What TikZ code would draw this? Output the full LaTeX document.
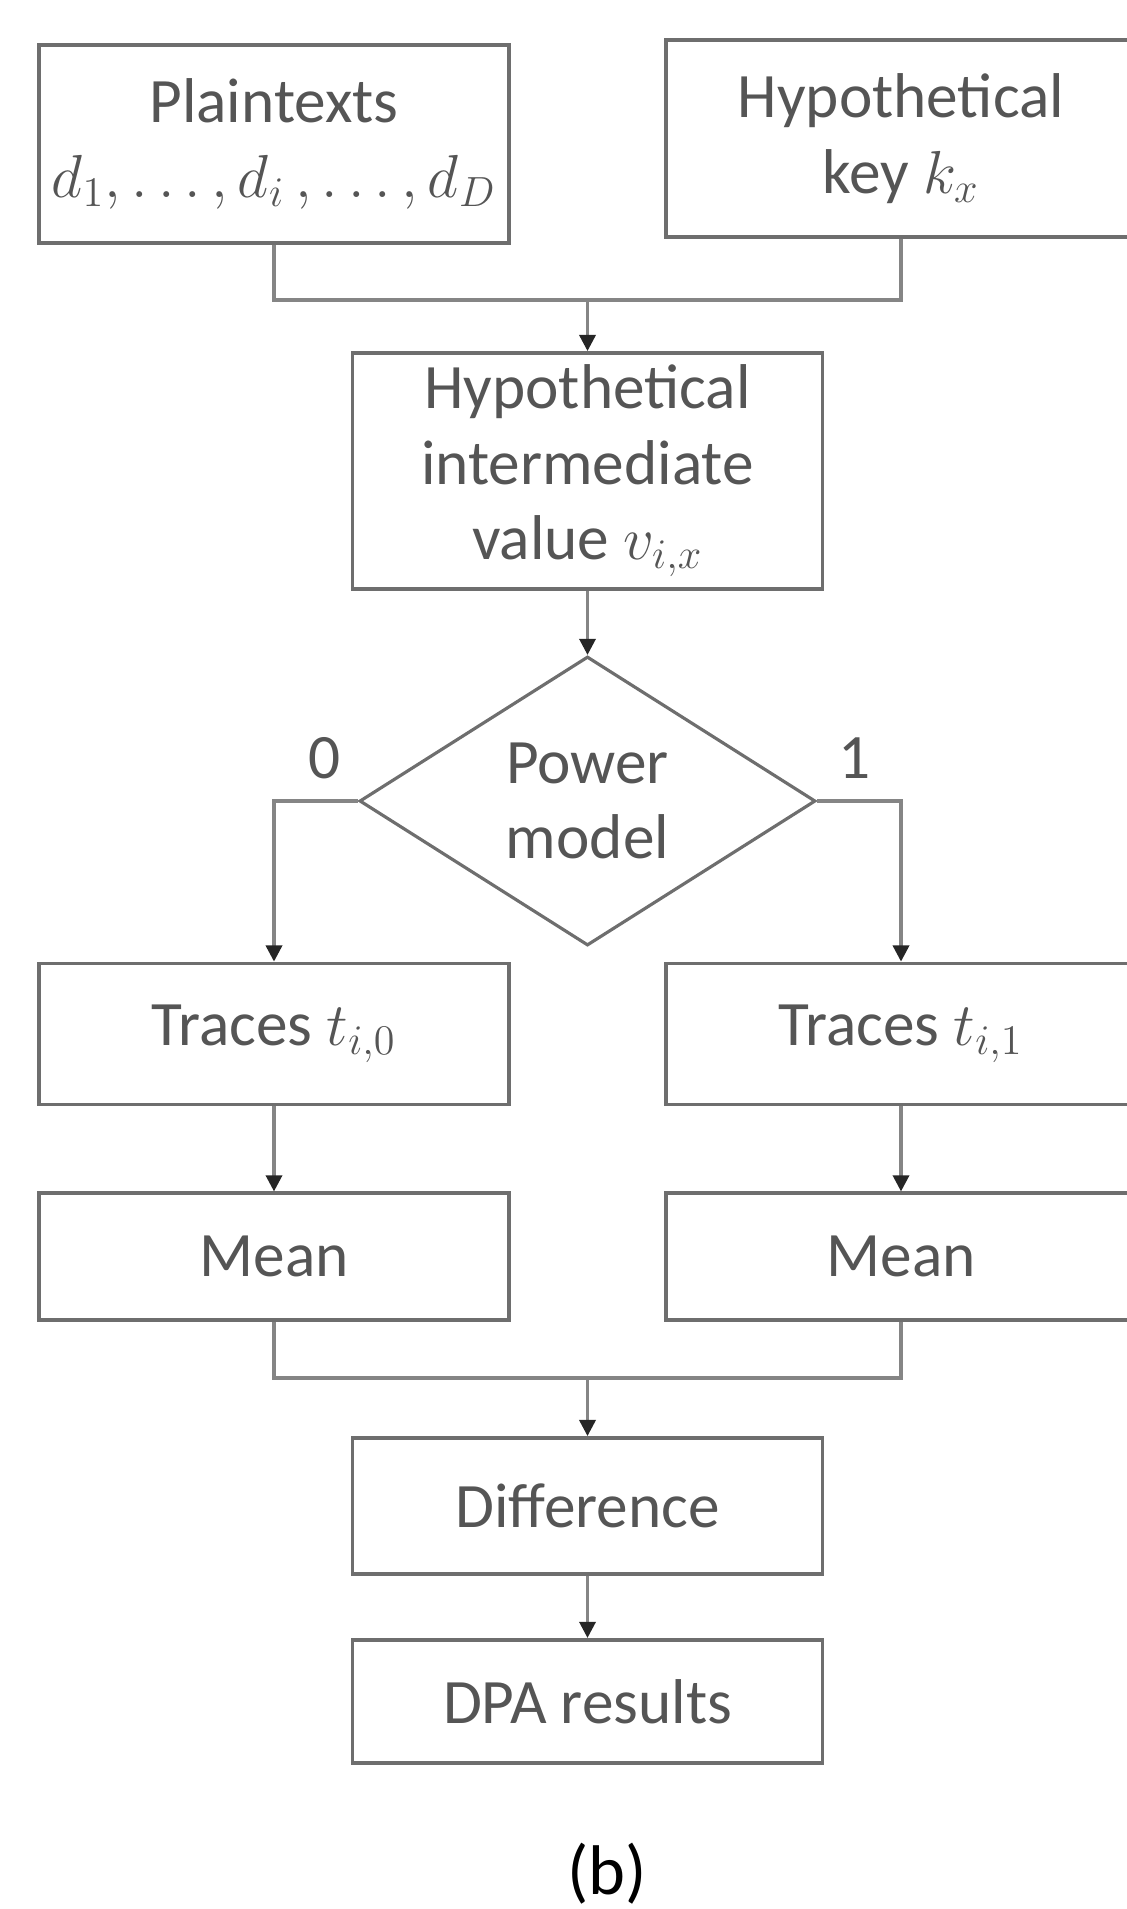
\documentclass[tikz,border=0pt]{standalone}
\usepackage{fontspec}
\setmainfont{Carlito}
\usepackage{amsmath}
\usetikzlibrary{positioning, arrows.meta, shapes.geometric, calc}
\definecolor{cLINE}{HTML}{6E6E6E}
\definecolor{cLINK}{HTML}{858585}
\definecolor{cTEXT}{HTML}{555555}
\tikzset{
  stepbox/.style={
    draw=cLINE, line width=1.1pt,
    fill=white,
    text=cTEXT,
    align=center,
    inner sep=2pt,
    minimum width=4.7cm,
    minimum height=#1,
    font=\fontsize{18}{21.5}\selectfont
  },
  decision/.style={
    diamond,
    draw=cLINE, line width=0.9pt,
    text=cTEXT,
    align=center,
    inner sep=0pt,
    minimum width=4.56cm,
    minimum height=2.89cm,
    font=\fontsize{18}{21.5}\selectfont
  },
  link/.style={
    line width=0.9pt,
    draw=cLINK
  },
  flow/.style={
    link,
    -{Triangle[length=4.6pt,width=4.6pt,color=black!85]}
  },
  branchlabel/.style={
    text=cTEXT,
    font=\fontsize{18}{21.5}\selectfont
  }
}

\begin{document}
\begin{tikzpicture}
  \useasboundingbox (0,0) rectangle (11.26,-19.09);

  \node[stepbox=1.98cm] (plain) at (2.74,-1.44) {Plaintexts\\$d_1, \ldots, d_i\,, \ldots, d_D$};
  \node[stepbox=1.97cm] (key) at (9.01,-1.385) {Hypothetical\\key $k_x$};
  \node[stepbox=2.36cm] (inter) at (5.875,-4.71) {Hypothetical\\intermediate\\value $v_{i,x}$};
  \node[decision, below=0.64cm of inter] (model) {Power\\model};
  \node[branchlabel] (lbl0) at (3.25,-7.58) {0};
  \node[branchlabel] (lbl1) at (8.55,-7.58) {1};

  \node[stepbox=1.41cm] (trace0) at (2.74,-10.34) {Traces $t_{i,0}$};
  \node[stepbox=1.41cm] (trace1) at (9.01,-10.34) {Traces $t_{i,1}$};
  \node[stepbox=1.27cm, below=0.85cm of trace0] (mean0) {Mean};
  \node[stepbox=1.27cm, below=0.85cm of trace1] (mean1) {Mean};

  \node[stepbox=1.36cm] (diff) at (5.875,-15.06) {Difference};
  \node[stepbox=1.23cm, below=0.62cm of diff] (dpa) {DPA results};
  \node[font=\fontsize{20}{24}\selectfont] (caption) at (6.07,-18.74) {(b)};

  \coordinate (join1) at (inter.north |- 0,-3.00);
  \coordinate (join2) at (diff.north |- 0,-13.78);

  \draw[link] (plain.south) |- (join1) -| (key.south);
  \draw[flow] (join1) -- (inter.north);
  \draw[flow] (inter) -- (model);
  \draw[flow] (model.west) -| (trace0.north);
  \draw[flow] (model.east) -| (trace1.north);
  \draw[flow] (trace0) -- (mean0);
  \draw[flow] (trace1) -- (mean1);
  \draw[link] (mean0.south) |- (join2) -| (mean1.south);
  \draw[flow] (join2) -- (diff.north);
  \draw[flow] (diff) -- (dpa);
\end{tikzpicture}
\end{document}
